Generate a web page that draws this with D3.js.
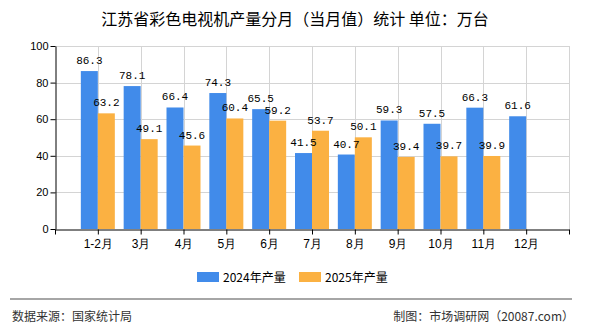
<!DOCTYPE html>
<html>
<head>
<meta charset="utf-8">
<script src="https://cdn.jsdelivr.net/npm/d3@7"></script>
<style>
  body { margin: 0; background: #fff; }
  svg { display: block; font-family: "Noto Sans CJK SC", "DejaVu Sans", sans-serif; }
</style>
</head>
<body>
<svg id="chart" width="590" height="330"></svg>
<script>
const months = ["1-2月", "3月", "4月", "5月", "6月", "7月", "8月", "9月", "10月", "11月", "12月"];
const series = ["2024年产量", "2025年产量"];
const values2024 = [86.3, 78.1, 66.4, 74.3, 65.5, 41.5, 40.7, 59.3, 57.5, 66.3, 61.6];
const values2025 = [63.2, 49.1, 45.6, 60.4, 59.2, 53.7, 50.1, 39.4, 39.7, 39.9, null];
const yTicks = [0, 20, 40, 60, 80, 100];
const colors = ["#418bea", "#fbb142"];

const svg = d3.select("#chart");
const plotLeft = 55, plotRight = 569, plotTop = 46, plotBottom = 229;

// one empty slot either side, categories sit on the grid lines
const x = d3.scalePoint()
  .domain(["_s", ...months, "_e"])
  .range([plotLeft, plotRight]);
const xs = d3.scaleBand().domain(series).range([-17, 17]);
const y = d3.scaleLinear().domain([0, 100]).range([plotBottom, plotTop]);

// grid
const grid = svg.append("g").attr("stroke", "#d4d4d4").attr("stroke-width", 1);
grid.selectAll("line.h").data(yTicks.slice(1)).enter().append("line")
  .attr("x1", plotLeft).attr("x2", plotRight)
  .attr("y1", d => Math.round(y(d)) + 0.5).attr("y2", d => Math.round(y(d)) + 0.5);
grid.selectAll("line.v").data(x.domain().slice(1)).enter().append("line")
  .attr("x1", d => Math.round(x(d)) + 0.5).attr("x2", d => Math.round(x(d)) + 0.5)
  .attr("y1", plotTop).attr("y2", plotBottom);

// bars
const data = months.map((m, i) => ({ m, vals: [values2024[i], values2025[i]] }));
const groups = svg.append("g").selectAll("g").data(data).enter().append("g")
  .attr("transform", d => `translate(${x(d.m)},0)`);

groups.selectAll("rect")
  .data(d => d.vals.map((v, j) => ({ v, s: series[j], j })).filter(e => e.v != null))
  .enter().append("rect")
  .attr("x", e => xs(e.s))
  .attr("width", xs.bandwidth())
  .attr("y", e => y(e.v))
  .attr("height", e => plotBottom - y(e.v))
  .attr("fill", e => colors[e.j]);

groups.selectAll("text")
  .data(d => d.vals.map((v, j) => ({ v, s: series[j] })).filter(e => e.v != null))
  .enter().append("text")
  .attr("x", e => xs(e.s) + xs.bandwidth() / 2)
  .attr("y", e => y(e.v) - 7)
  .attr("text-anchor", "middle")
  .attr("font-family", "'Liberation Mono', 'DejaVu Sans Mono', monospace")
  .attr("font-size", 11)
  .attr("fill", "#000")
  .text(e => e.v.toFixed(1));

// y axis
const yAxis = svg.append("g").attr("transform", `translate(${plotLeft + 0.5},0)`)
  .call(d3.axisLeft(y).tickValues(yTicks).tickSize(5).tickSizeOuter(0));
yAxis.select(".domain").attr("stroke", "#000");
yAxis.selectAll(".tick line").attr("stroke", "#000");
yAxis.selectAll(".tick text").attr("font-size", 11).attr("fill", "#000")
  .attr("font-family", "'Liberation Sans', 'DejaVu Sans', sans-serif").attr("x", -7);

// x axis
const xAxis = svg.append("g").attr("transform", `translate(0,${plotBottom + 0.5})`)
  .call(d3.axisBottom(x).tickSize(5).tickSizeOuter(0)
    .tickFormat(d => months.includes(d) ? d : ""));
xAxis.select(".domain").attr("stroke", "#000");
xAxis.selectAll(".tick line").attr("stroke", "#000");
xAxis.selectAll(".tick text").attr("font-size", 12).attr("fill", "#000").attr("dy", "0.9em");

// title
svg.append("text").attr("x", 295).attr("y", 25).attr("text-anchor", "middle")
  .attr("font-size", 16).attr("fill", "#000")
  .text("江苏省彩色电视机产量分月（当月值）统计 单位：万台");

// legend
const legend = svg.append("g").selectAll("g").data(series).enter().append("g")
  .attr("transform", (d, i) => `translate(${197 + i * 102},272)`);
legend.append("rect").attr("width", 22).attr("height", 10).attr("fill", (d, i) => colors[i]);
legend.append("text").attr("x", 26).attr("y", 9.5).attr("font-size", 12).attr("fill", "#000").text(d => d);

// footer
svg.append("line").attr("x1", 10).attr("x2", 572).attr("y1", 299).attr("y2", 299)
  .attr("stroke", "#888").attr("stroke-width", 1.5);
svg.append("text").attr("x", 12).attr("y", 321).attr("font-size", 12).attr("fill", "#333")
  .text("数据来源：国家统计局");
svg.append("text").attr("x", 574).attr("y", 321).attr("text-anchor", "end").attr("font-size", 12).attr("fill", "#333")
  .text("制图：市场调研网（20087.com）");
</script>
</body>
</html>
